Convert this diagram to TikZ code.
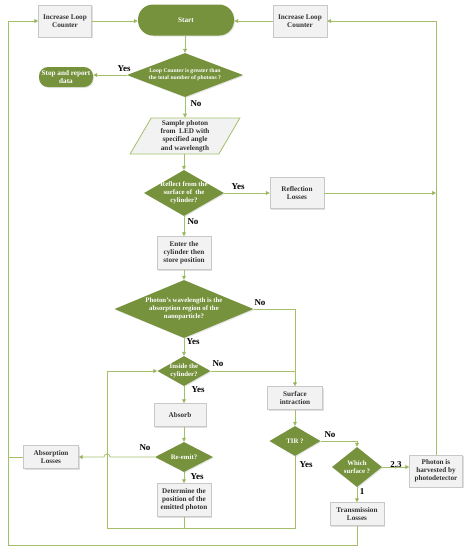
\documentclass[tikz,border=0pt]{standalone}
\usepackage{fontspec}
\setmainfont{Liberation Serif}
\usetikzlibrary{positioning,arrows.meta,shapes.geometric,shadows}
\definecolor{LeafGreen}{HTML}{76923C}
\definecolor{LineGreen}{HTML}{A4BF6A}
\definecolor{BoxFill}{HTML}{F2F2F2}
\definecolor{BoxLine}{HTML}{C8C8C8}

\tikzset{
  dims/.style 2 args={minimum width=#1pt, minimum height=#2pt},
  procbox/.style={rectangle, draw=BoxLine, fill=BoxFill, align=center, text=black!80,
    inner sep=1pt, font=\fontsize{7.2}{8.2}\selectfont\bfseries,
    drop shadow={opacity=0.25, shadow xshift=1pt, shadow yshift=-1pt}},
  termbox/.style={rectangle, rounded corners=9pt, fill=LeafGreen, text=white, align=center,
    inner sep=1pt, font=\fontsize{7.2}{8.2}\selectfont\bfseries,
    drop shadow={opacity=0.2, shadow xshift=1pt, shadow yshift=-1pt}},
  decide/.style={diamond, fill=LeafGreen, text=white, align=center, inner sep=-6pt,
    font=\fontsize{6.8}{7.9}\selectfont\bfseries,
    drop shadow={opacity=0.2, shadow xshift=1pt, shadow yshift=-1pt}},
  inputbox/.style={trapezium, trapezium left angle=64, trapezium right angle=116,
    trapezium stretches=true, draw=LineGreen, line width=0.8pt, fill=BoxFill,
    align=center, text=black!80, inner sep=0pt, font=\fontsize{7.2}{8.2}\selectfont\bfseries},
  answer/.style={font=\fontsize{9}{10}\selectfont\bfseries, inner sep=0pt},
  flow/.style={draw=LineGreen, line width=0.8pt, -{Triangle[width=4pt,length=4pt,fill=LeafGreen]}},
  link/.style={draw=LineGreen, line width=0.8pt}
}

\begin{document}
\begin{tikzpicture}[x=1pt, y=-1pt]
  \useasboundingbox (0,0) rectangle (466,550);

  \node[procbox, dims={53}{32}] (incL) at (65,21) {Increase Loop\\Counter};
  \node[termbox, dims={96}{31}, rounded corners=15pt] (start) at (186,20) {Start};
  \node[procbox, dims={54}{32}] (incR) at (300,21) {Increase Loop\\Counter};

  \node[decide, dims={116}{44}, aspect=2.6, font=\fontsize{5.7}{7.2}\selectfont\bfseries] (loop) at (185,75) {Loop Counter is greater than\\the total number of photons ?};
  \node[termbox, dims={54}{20}] (stop) at (66,77) {Stop and report\\data};

  \node[inputbox, dims={110}{36}] (sample) at (185,136) {Sample photon\\from\ \ LED with\\specified angle\\and wavelength};

  \node[decide, dims={80}{46}, aspect=1.74] (reflect) at (184,193) {Reflect from the\\surface of\ \ the\\cylinder?};
  \node[procbox, dims={54}{31}] (refl) at (297,193) {Reflection\\Losses};

  \node[procbox, dims={54}{33}] (enter) at (184,253) {Enter the\\cylinder then\\store position};

  \node[decide, dims={139}{58}, aspect=2.4] (wave) at (184,309) {Photon's wavelength is the\\absorption region of the\\nanoparticle?};

  \node[decide, dims={53}{30}, aspect=1.77] (inside) at (184,371) {Inside the\\cylinder?};
  \node[procbox, dims={52}{23}] (absorb) at (180,415) {Absorb};
  \node[decide, dims={58}{30}, aspect=1.93] (reemit) at (184,457) {Re-emit?};
  \node[procbox, dims={55}{23}] (abslos) at (51,457) {Absorption\\Losses};
  \node[procbox, dims={54}{33}] (determine) at (184,500) {Determine the\\position of the\\emitted photon};

  \node[procbox, dims={55}{23}] (surf) at (295,398) {Surface\\intraction};
  \node[decide, dims={51}{30}, aspect=1.7] (tir) at (295,441) {TIR ?};
  \node[decide, dims={50}{40}, aspect=1.25] (which) at (357,467) {Which\\surface ?};
  \node[procbox, dims={53}{32}] (harvest) at (436,471) {Photon is\\harvested by\\photodetector};
  \node[procbox, dims={54}{23}] (trans) at (357,514) {Transmission\\Losses};

  \coordinate (outerL) at (8,545);
  \coordinate (innerL) at (107,528);

  \node[answer] (yesLoop) at (124,69) {Yes};
  \node[answer] (noLoop) at (196,104) {No};
  \node[answer] (yesRefl) at (238,187) {Yes};
  \node[answer] (noRefl) at (193,222) {No};
  \node[answer] (noWave) at (260,303) {No};
  \node[answer] (yesWave) at (193,342) {Yes};
  \node[answer] (noInside) at (218,364) {No};
  \node[answer] (yesInside) at (198,390) {Yes};
  \node[answer] (noEmit) at (145,448) {No};
  \node[answer] (yesEmit) at (197,477) {Yes};
  \node[answer] (noTir) at (330,435) {No};
  \node[answer] (yesTir) at (306,465) {Yes};
  \node[answer] (sideA) at (396,465) {2,3};
  \node[answer] (sideB) at (362,492) {1};

  \draw[flow] (incL.east) -- (incL.east -| start.west);
  \draw[flow] (incR.west) -- (incR.west -| start.east);
  \draw[flow] (start.south -| loop.north) -- (loop.north);
  \draw[flow] (loop.west) -- (loop.west -| stop.east);
  \draw[flow] (loop.south) -- (loop.south |- sample.north);
  \draw[flow] (reflect.north |- sample.south) -- (reflect.north);
  \draw[flow] (reflect.east) -- (refl.west);
  \draw[flow] (refl.east) -- (refl.east -| harvest.north);
  \draw[flow] (reflect) -- (enter);
  \draw[flow] (enter) -- (wave);
  \draw[flow] (wave.east) -| (surf.north);
  \draw[flow] (wave) -- (inside);
  \draw[link] (inside.east) -- (inside.east -| surf.north);
  \draw[flow] (inside.south) -- (inside.south |- absorb.north);
  \draw[flow] (inside.south |- absorb.south) -- (reemit.north);
  \draw[flow] (reemit.west) -- ([xshift=3pt]innerL |- reemit.west)
    arc[start angle=0, end angle=180, radius=3pt] -- (abslos.east);
  \draw[link] (abslos.west) -- (abslos.west -| outerL);
  \draw[flow] (reemit) -- (determine);
  \draw[link] (determine.south) -- (determine.south |- innerL);
  \draw[flow] (tir.south) |- (innerL) |- (inside.west);
  \draw[flow] (surf) -- (tir);
  \draw[flow] (tir.east) -| (which.north);
  \draw[flow] (which.east) -- (which.east -| harvest.west);
  \draw[flow] (which) -- (trans);
  \draw[flow] (trans.south) |- (outerL) |- (incL.west);
  \draw[flow] (harvest.north) |- (incR.east);
\end{tikzpicture}
\end{document}
